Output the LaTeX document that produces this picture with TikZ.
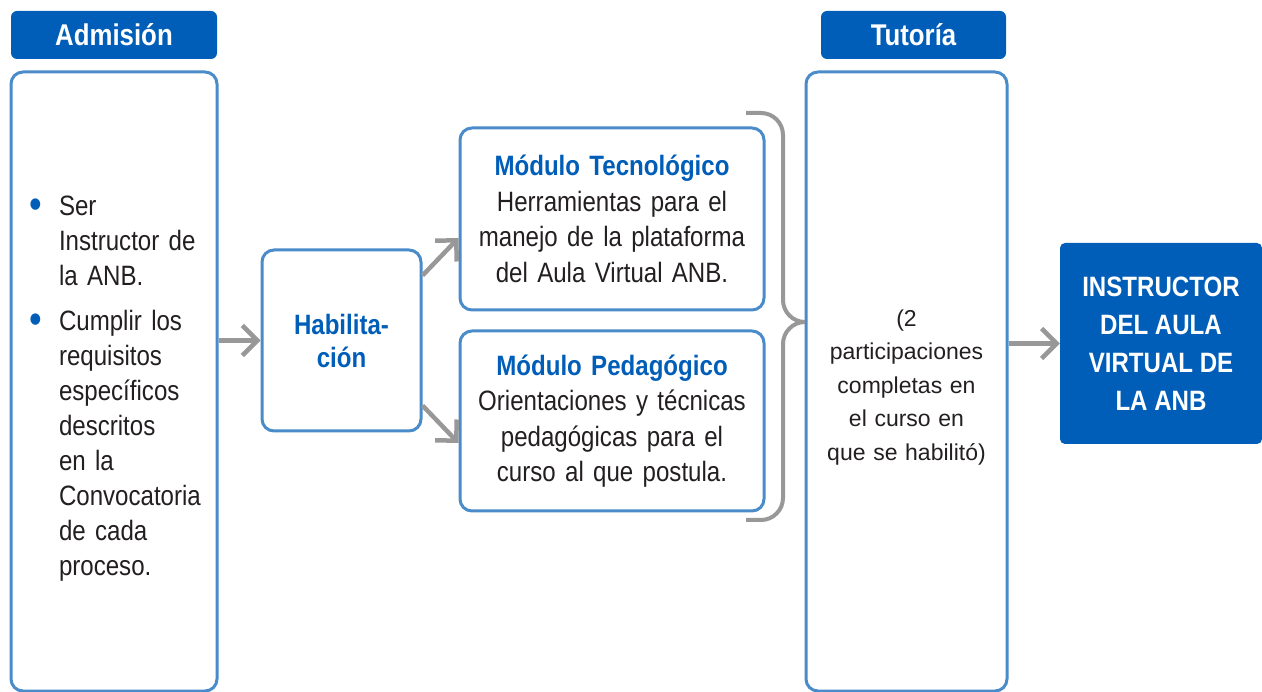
\documentclass[tikz,border=0pt]{standalone}
\usepackage{fontspec}
\setmainfont{Liberation Sans}[FakeStretch=0.86]
\newfontfamily\anchafont{Liberation Sans}
\usepackage{tikz}
\usetikzlibrary{arrows.meta,positioning}
\definecolor{azul}{RGB}{0,94,184}
\definecolor{borde}{RGB}{74,139,202}
\definecolor{gris}{RGB}{152,152,152}
\definecolor{texto}{RGB}{35,31,32}
\newcommand{\vinieta}{\makebox[29pt][l]{\hspace*{-1pt}\raisebox{-2.5pt}{\scalebox{1.5}{\textcolor{azul}{\textbullet}}}}}

\begin{document}
\begin{tikzpicture}[x=1pt,y=-1pt,
    caja/.style={draw=borde, line width=3pt, rounded corners=12pt, text=texto, align=center,
      font=\fontsize{28}{35.5}\selectfont},
    cabecera/.style={fill=azul, rounded corners=6pt, minimum height=48, text=white,
      font=\bfseries\fontsize{30}{36}\selectfont},
    flecha/.style={draw=gris, line width=4.5pt, -{Straight Barb[length=15pt,width=30pt]}},
    llave/.style={draw=gris, line width=4pt, rounded corners=22pt}]
  \useasboundingbox (0,0) rectangle (1262,692);
  % cabeceras
  \node[cabecera, minimum width=206] (cadm) at (114,35) {Admisión};
  \node[cabecera, minimum width=185] (ctut) at (913.5,35) {Tutoría};
  % columnas
  \node[caja, minimum height=619, text width=168, inner xsep=19, align=left,
    font=\fontsize{28}{35}\selectfont] (adm) at (114,381.5)
    {\hangindent=29pt\hangafter=1\noindent\vinieta\rule{0pt}{34pt}Ser\newline Instructor de\newline la ANB.\par
     \vspace{10pt}
     \hangindent=29pt\hangafter=1\noindent\vinieta Cumplir los\newline requisitos\newline
     específicos\newline descritos\newline en la\newline Convocatoria\newline de cada\newline proceso.\par};
  \node[caja, minimum width=159, minimum height=181, text=azul, font=\bfseries\fontsize{28}{33}\selectfont]
    (hab) at (341.5,340.5) {Habilita-\\ción};
  \node[caja, minimum width=304, minimum height=182, text width=290] (tec) at (612,219)
    {\textcolor{azul}{\bfseries Módulo Tecnológico}\\Herramientas para el\\manejo de la plataforma\\del Aula Virtual ANB.};
  \node[caja, minimum width=304, minimum height=180, text width=290] (ped) at (612,421)
    {\textcolor{azul}{\bfseries Módulo Pedagógico}\\Orientaciones y técnicas\\pedagógicas para el\\curso al que postula.};
  \node[caja, minimum width=201, minimum height=619, text width=185, font=\anchafont\fontsize{23}{33.5}\selectfont]
    (tut) at (906.5,381.5) {\rule{0pt}{28pt}(2\\participaciones\\completas en\\el curso en\\que se habilitó)};
  \node[fill=azul, rounded corners=5pt, minimum width=202, minimum height=201, text=white, align=center,
    font=\bfseries\fontsize{28}{38}\selectfont] (inst) at (1161,343.5) {INSTRUCTOR\\DEL AULA\\VIRTUAL DE\\LA ANB};
  % flechas
  \draw[flecha] (adm.east |- hab.west) -- (hab.west);
  \draw[flecha] ([yshift=65pt]hab.east) -- ([yshift=-19pt]tec.west);
  \draw[flecha] ([yshift=-65pt]hab.east) -- ([yshift=-22pt]ped.west);
  \draw[flecha] (tut.east |- inst.west) -- (inst.west);
  % llave
  \draw[llave] (746,113) -- (783,113) -- (783,322) -- (805,322);
  \draw[llave] (805,322) -- (783,322) -- (783,520) -- (746,520);
\end{tikzpicture}
\end{document}
